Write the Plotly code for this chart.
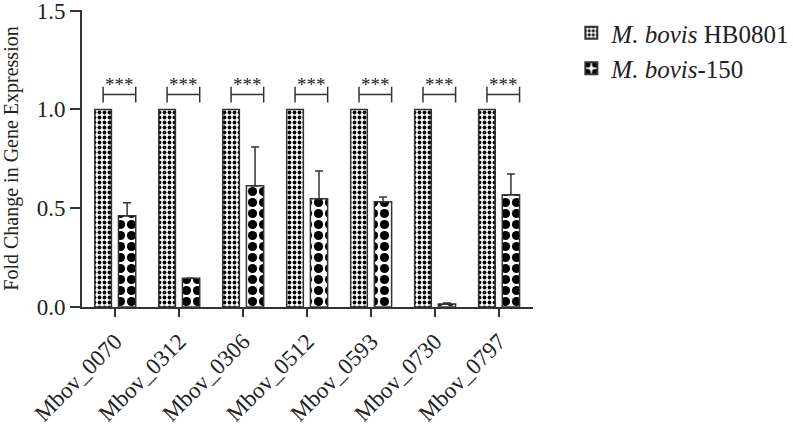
import plotly.graph_objects as go

genes = ["Mbov_0070", "Mbov_0312", "Mbov_0306", "Mbov_0512", "Mbov_0593", "Mbov_0730", "Mbov_0797"]
hb0801 = [1.0, 1.0, 1.0, 1.0, 1.0, 1.0, 1.0]
mb150 = [0.462, 0.146, 0.613, 0.548, 0.532, 0.015, 0.568]
mb150_err = [0.065, 0.0, 0.197, 0.14, 0.025, 0.005, 0.105]
stars = ["***"] * 7

font_name = "Liberation Serif"
axis_col = "#333333"

fig = go.Figure()
fig.add_trace(go.Bar(
    x=genes, y=hb0801, name="<i>M. bovis</i> HB0801",
    width=0.26, offset=-0.32,
    marker=dict(color="white", line=dict(color=axis_col, width=1.5),
                pattern=dict(shape=".", size=5, solidity=0.45, fgcolor="#000000",
                             bgcolor="white", fgopacity=1, fillmode="replace")),
))
fig.add_trace(go.Bar(
    x=genes, y=mb150, name="<i>M. bovis</i>-150",
    width=0.27, offset=0.05,
    marker=dict(color="white", line=dict(color=axis_col, width=1.5),
                pattern=dict(shape=".", size=11, solidity=0.55, fgcolor="#000000",
                             bgcolor="white", fgopacity=1, fillmode="replace")),
    error_y=dict(type="data", symmetric=False, array=mb150_err, arrayminus=[0] * 7,
                 color=axis_col, thickness=1.5, width=4),
))

# significance brackets
for i, s in enumerate(stars):
    x0, x1 = i - 0.19, i + 0.32
    fig.add_shape(type="line", x0=x0, x1=x1, y0=1.075, y1=1.075, xref="x", yref="y",
                  line=dict(color=axis_col, width=1.5))
    for xx in (x0, x1):
        fig.add_shape(type="line", x0=xx, x1=xx, y0=1.035, y1=1.115, xref="x", yref="y",
                      line=dict(color=axis_col, width=1.5))
    fig.add_annotation(x=(x0 + x1) / 2, y=1.065, text=s, showarrow=False, xref="x", yref="y",
                       yanchor="bottom", font=dict(size=19, color="#222222", family=font_name))

fig.update_layout(
    width=793, height=426,
    margin=dict(l=82, r=260, t=10, b=119, autoexpand=False),
    plot_bgcolor="white", paper_bgcolor="white",
    font=dict(family=font_name, color="#222222"),
    showlegend=True,
    legend=dict(x=1.085, y=1.0, xanchor="left", yanchor="top",
                font=dict(size=25, family=font_name, color="#222222"),
                itemsizing="constant"),
)
fig.update_xaxes(
    range=[-0.52, 6.53], tickangle=-45, tickfont=dict(size=23, family=font_name),
    showline=True, linecolor=axis_col, linewidth=2, automargin=False, ticklabeloverflow="allow",
    ticklabelstandoff=2,
    ticks="outside", ticklen=8, tickwidth=1.5, tickcolor=axis_col,
)
fig.update_yaxes(
    range=[0, 1.503], tickvals=[0, 0.5, 1.0, 1.5], ticktext=["0.0", "0.5", "1.0", "1.5"],
    tickfont=dict(size=23, family=font_name), automargin=False, ticklabeloverflow="allow",
    showline=True, linecolor=axis_col, linewidth=2, showgrid=False, zeroline=False,
    ticks="outside", ticklen=10, tickwidth=1.5, tickcolor=axis_col,
    title=dict(text="Fold Change in Gene Expression", font=dict(size=20, family=font_name), standoff=14),
)

fig.write_html("out.html", config={"displayModeBar": False},
               post_script="document.body.style.margin='0';")
